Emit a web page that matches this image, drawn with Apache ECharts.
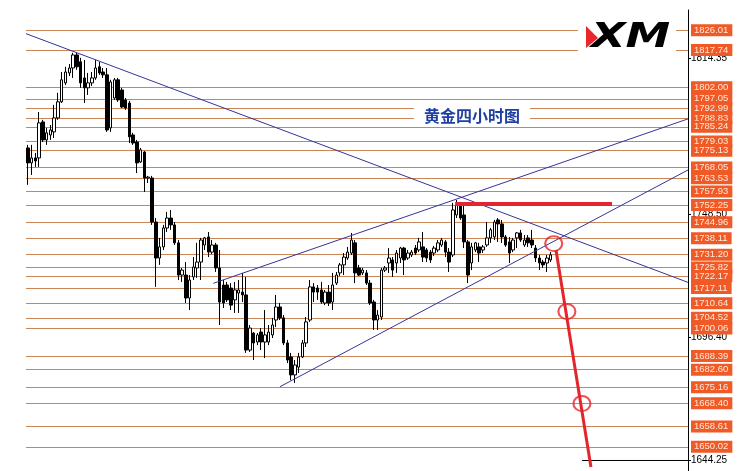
<!DOCTYPE html>
<html><head><meta charset="utf-8">
<script src="https://cdn.jsdelivr.net/npm/echarts@6/dist/echarts.min.js"></script>
<style>html,body{margin:0;padding:0;background:#fff}#c{width:745px;height:471px}</style>
</head><body><div id="c"></div>
<script>
// Candle values (4-hour gold)
const opens = [1776.3,1770.0,1772.1,1772.1,1787.3,1779.7,1781.8,1783.1,1789.0,1795.8,1803.8,1808.0,1810.1,1815.6,1812.7,1805.9,1801.7,1803.8,1805.9,1810.6,
1808.4,1807.2,1784.8,1797.4,1805.1,1800.8,1796.6,1795.3,1781.8,1778.8,1770.4,1774.6,1763.6,1763.6,1745.0,1729.8,1734.5,1742.5,1746.7,1743.8,
1736.2,1722.6,1722.6,1712.9,1721.8,1725.6,1728.1,1735.3,1738.7,1732.3,1735.3,1725.6,1718.4,1718.4,1717.1,1712.1,1715.0,1715.4,1714.2,1690.9,
1698.1,1694.3,1698.5,1694.3,1694.3,1697.3,1703.6,1709.1,1704.5,1693.9,1688.0,1680.4,1683.7,1688.0,1693.9,1703.6,1717.6,1717.1,1716.3,1710.8,
1715.4,1711.2,1719.2,1723.5,1726.9,1729.8,1731.9,1736.2,1725.6,1723.5,1723.5,1719.2,1711.2,1703.6,1704.9,1724.7,1727.7,1729.0,1727.7,1729.8,
1734.0,1729.8,1731.1,1734.0,1733.2,1734.5,1733.2,1732.3,1731.9,1733.2,1735.3,1736.6,1732.3,1731.1,1748.0,1752.2,1748.0,1736.6,1727.7,1733.2,
1734.5,1733.2,1735.3,1738.3,1738.7,1745.9,1744.2,1738.7,1736.6,1733.2,1738.3,1740.4,1735.3,1738.3,1737.4,1734.0,1729.8,1728.1,1727.7,1729.0];
const closes = [1770.0,1772.1,1770.8,1786.9,1779.7,1782.7,1783.9,1789.0,1795.8,1805.1,1808.4,1810.1,1815.6,1810.6,1803.8,1801.7,1803.8,1805.9,1810.1,1808.0,
1807.2,1783.9,1804.2,1805.1,1796.6,1793.6,1793.2,1781.0,1778.4,1770.0,1775.5,1763.6,1764.0,1745.0,1729.8,1734.5,1742.5,1746.7,1743.8,1736.2,
1722.6,1724.7,1712.9,1720.5,1726.0,1728.1,1737.4,1738.3,1732.3,1735.3,1725.6,1711.2,1710.8,1712.1,1709.9,1716.3,1716.3,1714.2,1690.9,1700.2,
1693.9,1697.3,1694.3,1697.3,1698.5,1701.5,1709.1,1704.5,1693.9,1686.7,1680.4,1684.6,1688.0,1693.9,1702.8,1717.6,1715.4,1715.4,1711.2,1715.4,
1710.8,1718.4,1722.6,1726.9,1730.2,1732.3,1737.4,1723.5,1722.6,1724.7,1719.2,1710.8,1703.6,1705.7,1724.7,1725.6,1729.8,1724.7,1731.9,1734.0,
1729.0,1731.9,1732.3,1731.9,1736.6,1730.2,1729.8,1729.0,1734.0,1736.2,1737.4,1732.3,1728.1,1750.1,1752.2,1746.7,1736.6,1722.6,1734.5,1736.2,
1731.9,1734.5,1738.3,1741.7,1745.0,1744.2,1738.7,1735.3,1731.9,1737.4,1740.4,1737.4,1737.4,1736.2,1735.3,1729.8,1727.7,1726.9,1729.8,1731.1];
const lows = [1760.7,1764.9,1768.3,1768.3,1778.8,1777.6,1779.7,1780.5,1788.2,1795.3,1802.9,1806.7,1805.9,1809.3,1801.7,1795.3,1798.7,1802.5,1805.1,1807.2,
1805.9,1783.1,1783.1,1796.6,1795.8,1793.2,1792.4,1778.4,1777.6,1765.7,1770.0,1757.7,1761.5,1743.8,1717.6,1726.9,1733.2,1740.8,1741.7,1735.3,
1720.5,1719.7,1710.8,1707.8,1720.5,1721.4,1720.5,1733.2,1730.2,1731.5,1723.9,1701.5,1708.7,1711.2,1707.8,1706.6,1706.6,1711.2,1689.7,1690.1,
1686.7,1693.0,1690.9,1687.5,1693.0,1696.0,1700.6,1703.6,1693.0,1685.4,1678.2,1677.0,1681.2,1687.5,1692.2,1702.8,1711.2,1712.1,1710.4,1709.9,
1709.5,1707.8,1718.4,1722.2,1722.6,1729.0,1731.1,1719.2,1722.2,1722.6,1718.4,1709.9,1699.4,1699.4,1703.6,1723.9,1723.5,1721.8,1723.5,1727.7,
1722.6,1729.0,1730.2,1731.1,1732.3,1728.1,1728.1,1727.7,1730.6,1732.3,1734.5,1730.2,1723.9,1730.2,1746.7,1745.9,1734.0,1719.2,1724.7,1732.3,
1728.1,1731.9,1734.5,1736.2,1737.4,1736.6,1736.2,1734.5,1727.7,1732.3,1734.0,1736.6,1734.5,1734.5,1734.0,1728.1,1724.7,1725.6,1723.9,1728.1];
const highs = [1777.6,1777.6,1774.2,1791.5,1788.2,1784.8,1786.0,1794.5,1799.6,1808.4,1810.6,1811.8,1816.5,1816.5,1814.4,1813.5,1808.0,1808.4,1813.5,1812.7,
1810.1,1810.1,1805.1,1805.9,1805.9,1801.7,1797.4,1796.2,1782.7,1779.7,1776.3,1775.0,1764.5,1764.5,1746.7,1738.3,1743.8,1749.3,1750.1,1745.0,
1737.4,1725.6,1728.1,1722.6,1730.2,1736.2,1738.3,1738.7,1740.8,1737.4,1736.2,1733.2,1720.5,1719.7,1719.2,1719.7,1720.5,1723.5,1721.8,1701.5,
1698.5,1698.1,1700.2,1707.8,1701.5,1704.5,1714.2,1710.8,1705.7,1695.2,1689.7,1686.7,1689.7,1695.2,1704.9,1720.5,1719.2,1718.4,1719.7,1716.3,
1718.4,1723.5,1723.9,1727.7,1731.9,1734.5,1740.4,1737.4,1726.9,1725.6,1724.7,1720.5,1712.1,1707.8,1725.6,1726.4,1734.0,1730.2,1733.2,1734.5,
1734.5,1733.2,1733.2,1735.3,1738.3,1740.8,1734.0,1733.2,1734.9,1737.4,1738.3,1737.4,1734.0,1753.1,1754.3,1753.1,1752.2,1737.4,1736.2,1736.6,
1736.2,1735.3,1745.0,1742.5,1745.9,1746.7,1745.9,1739.5,1738.7,1738.3,1740.8,1741.7,1739.5,1739.5,1741.7,1735.3,1731.1,1729.0,1731.1,1732.3];

// Support / resistance levels (orange labels)
const levels = [1826.01,1817.74,1802.00,1797.05,1792.99,1788.83,1785.24,1779.03,1775.13,1768.05,1763.53,1757.93,1752.25,1744.96,
1738.11,1731.20,1725.82,1722.17,1717.11,1710.64,1704.52,1700.06,1688.39,1682.60,1675.16,1668.40,1658.61,1650.02];
// Plain price-scale labels (black)
const priceTicks = [1814.35,1748.50,1696.40,1644.25];

// Drawn objects, in [bar position, price]
const trendDown = [[0,1824.6],[176,1719.5]];
const trendUpHigh = [[49.8,1719.1],[176,1788.6]];
const trendUpLow = [[67.5,1675.4],[176,1767.0]];
const redLevel = [[114.1,1752.6],[155.8,1752.6]];
const redPath = [[140.9,1733.2],[150.2,1641.5]];
const redCircles = [[140.3,1735.9],[143.8,1707.2],[147.8,1668.3]];
const bidLine = [[147.8,1644.25],[176,1644.25]];

const title = '黄金四小时图';
const slotCount = 176;

const categories = [];
for (let i = 0; i < slotCount; i++) categories.push(String(i));
const candles = opens.map((o, i) => [o, closes[i], lows[i], highs[i]]);

const chart = echarts.init(document.getElementById('c'), null, {renderer: 'canvas'});
const navy = '#34349a';
const red = '#e3262d';
function lineSeries(data, color, width, z) {
  return {type: 'line', xAxisIndex: 1, yAxisIndex: 0, data: data, symbol: 'none',
    lineStyle: {color: color, width: width}, z: z, silent: true, animation: false};
}
chart.setOption({
  animation: false,
  backgroundColor: '#ffffff',
  grid: {left: 26, right: 57, top: 10, bottom: 0, containLabel: false},
  xAxis: [
    {type: 'category', data: categories, show: false, boundaryGap: true},
    {type: 'value', min: 0, max: slotCount, show: false}
  ],
  yAxis: {
    type: 'value', position: 'right', min: 1639.8, max: 1834.6, scale: true,
    splitLine: {show: false},
    axisLine: {show: true, onZero: false, lineStyle: {color: '#000', width: 1}},
    axisTick: {show: true, customValues: priceTicks, length: 3, lineStyle: {color: '#000'}},
    axisLabel: {show: true, customValues: priceTicks, margin: 3, color: '#000',
      fontFamily: 'Liberation Sans', fontSize: 10, formatter: v => v.toFixed(2)}
  },
  series: [
    {
      type: 'candlestick', xAxisIndex: 0, yAxisIndex: 0, data: candles, barWidth: 3, z: 2,
      itemStyle: {color: '#ffffff', color0: '#000000', borderColor: '#000000', borderColor0: '#000000', borderWidth: 1},
      markLine: {
        silent: true, symbol: 'none', z: 1, precision: 2, animation: false,
        lineStyle: {color: '#c98659', width: 1, type: 'solid'},
        label: {show: true, position: 'end', distance: 3, formatter: p => Number(p.value).toFixed(2),
          backgroundColor: '#ef5a26', color: '#ffe9dc', fontFamily: 'Liberation Sans', fontSize: 9.5,
          padding: [1, 4, 0, 3], lineHeight: 11},
        emphasis: {disabled: true},
        data: levels.map(v => ({yAxis: v}))
      }
    },
    lineSeries(trendDown, navy, 1, 3),
    lineSeries(trendUpHigh, navy, 1, 3),
    lineSeries(trendUpLow, navy, 1, 3),
    lineSeries(bidLine, '#000', 1, 3),
    lineSeries(redLevel, red, 4, 4),
    lineSeries(redPath, red, 3, 4),
    {type: 'scatter', xAxisIndex: 1, yAxisIndex: 0, data: redCircles, symbol: 'circle', symbolSize: [17, 15],
      itemStyle: {color: 'rgba(0,0,0,0)', borderColor: red, borderWidth: 2}, z: 5, silent: true}
  ],
  graphic: [
    {type: 'rect', z: 100, shape: {x: 578, y: 18, width: 98, height: 38}, style: {fill: '#fff'}},
    {type: 'polygon', z: 101, shape: {points: [[586, 26], [598, 38], [586, 48]]}, style: {fill: '#e8262b'}},
    {type: 'text', z: 102, x: 591, y: 21, scaleX: 1.32, style: {text: 'XM', fill: '#000',
      font: 'italic bold 34px "DejaVu Sans"', textVerticalAlign: 'top'}},
    {type: 'rect', z: 100, shape: {x: 414, y: 106, width: 116, height: 19}, style: {fill: '#fff'}},
    {type: 'text', z: 101, x: 472, y: 116, style: {text: title, fill: '#1f3fa3',
      font: 'bold 16px "Noto Sans CJK SC"', textAlign: 'center', textVerticalAlign: 'middle'}}
  ]
});
</script>
</body></html>
